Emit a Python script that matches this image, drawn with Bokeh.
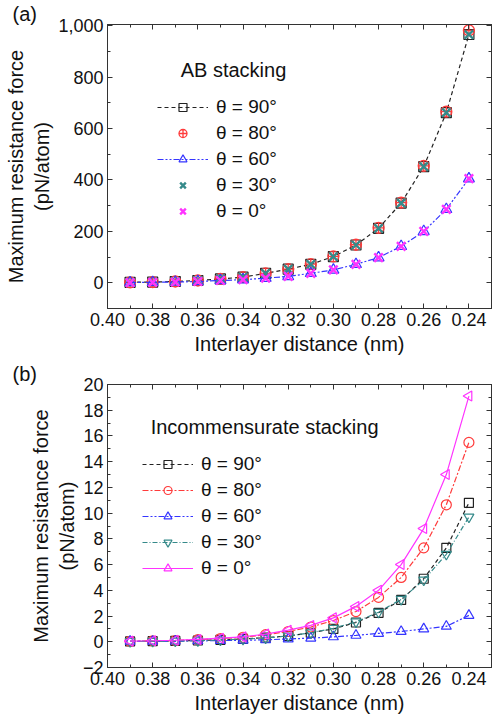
from bokeh.plotting import figure
from bokeh.layouts import column
from bokeh.models import (Range1d, FixedTicker, LinearAxis, Label, Title,
                          NumeralTickFormatter)
from bokeh.embed import file_html
from bokeh.resources import INLINE

# ---------------- data ----------------
distance = [0.39, 0.38, 0.37, 0.36, 0.35, 0.34, 0.33, 0.32,
            0.31, 0.30, 0.29, 0.28, 0.27, 0.26, 0.25, 0.24]

# (a) AB stacking, pN/atom
ab_90 = [2, 3, 5, 9, 15, 22, 37, 53, 72, 102, 147, 212, 310, 452, 662, 966]
ab_80 = [2, 3, 5, 9, 15, 22, 37, 53, 73, 103, 148, 214, 312, 455, 666, 982]
ab_60 = [1, 2, 3, 5, 9, 12, 18, 25, 37, 50, 72, 98, 142, 200, 286, 405]
ab_30 = [2, 3, 5, 9, 15, 22, 37, 53, 72, 102, 147, 212, 310, 452, 662, 966]
ab_0 = [1, 2, 3, 5, 9, 12, 18, 25, 37, 50, 72, 98, 142, 200, 286, 405]

# (b) Incommensurate stacking, pN/atom
in_90 = [0.03, 0.05, 0.07, 0.10, 0.15, 0.22, 0.32, 0.45,
         0.70, 1.00, 1.50, 2.25, 3.25, 4.90, 7.30, 10.8]
in_80 = [0.04, 0.07, 0.10, 0.16, 0.25, 0.35, 0.55, 0.80,
         1.15, 1.65, 2.35, 3.45, 5.00, 7.30, 10.65, 15.5]
in_60 = [0.03, 0.04, 0.05, 0.07, 0.09, 0.12, 0.15, 0.22,
         0.28, 0.38, 0.50, 0.65, 0.80, 1.00, 1.20, 2.05]
in_30 = [0.03, 0.04, 0.06, 0.09, 0.14, 0.20, 0.30, 0.45,
         0.70, 1.05, 1.55, 2.30, 3.30, 4.80, 6.80, 9.7]
in_0 = [0.05, 0.08, 0.12, 0.18, 0.28, 0.38, 0.60, 0.90,
        1.27, 1.86, 2.75, 4.00, 6.00, 8.80, 13.0, 19.1]

x_ticks = [0.40, 0.38, 0.36, 0.34, 0.32, 0.30, 0.28, 0.26, 0.24]
x_minor = [0.39, 0.37, 0.35, 0.33, 0.31, 0.29, 0.27, 0.25, 0.23]
ya_ticks = [0, 200, 400, 600, 800, 1000]
ya_minor = [-100, 100, 300, 500, 700, 900]
yb_ticks = [-2, 0, 2, 4, 6, 8, 10, 12, 14, 16, 18, 20]
yb_minor = [-1, 1, 3, 5, 7, 9, 11, 13, 15, 17, 19]

labels = ["θ = 90°", "θ = 80°", "θ = 60°", "θ = 30°", "θ = 0°"]

FONT = "Liberation Sans"
BLACK = "#222222"
RED = "#ff3b3b"
BLUE = "#3535ff"
TEAL = "#358a8a"
MAGENTA = "#ff33ff"
AXIS = "#333333"
TXT = "#111111"


def mirror_axis(ticks, minor):
    ax = LinearAxis(ticker=FixedTicker(ticks=ticks, minor_ticks=minor))
    ax.major_label_overrides = {t: "" for t in ticks}
    ax.major_label_text_font_size = "0px"
    ax.major_label_standoff = 0
    ax.major_tick_in = 5
    ax.major_tick_out = 0
    ax.minor_tick_in = 3
    ax.minor_tick_out = 0
    ax.axis_line_color = AXIS
    ax.major_tick_line_color = AXIS
    ax.minor_tick_line_color = AXIS
    return ax


def style_axes(p, yticks, yminor, overrides):
    p.xaxis.ticker = FixedTicker(ticks=x_ticks, minor_ticks=x_minor)
    p.yaxis.ticker = FixedTicker(ticks=yticks, minor_ticks=yminor)
    p.xaxis.formatter = NumeralTickFormatter(format="0.00")
    p.yaxis.major_label_overrides = overrides
    p.xaxis.axis_label = "Interlayer distance (nm)"
    p.yaxis.axis_label = "Maximum resistance force\n(pN/atom)"
    for ax in p.xaxis + p.yaxis:
        ax.major_label_text_font = FONT
        ax.major_label_text_font_size = "18px"
        ax.major_label_text_color = TXT
        ax.axis_label_text_font = FONT
        ax.axis_label_text_font_size = "20px"
        ax.axis_label_text_font_style = "normal"
        ax.axis_label_text_color = TXT
        ax.major_tick_in = 5
        ax.major_tick_out = 0
        ax.minor_tick_in = 3
        ax.minor_tick_out = 0
        ax.axis_line_color = AXIS
        ax.major_tick_line_color = AXIS
        ax.minor_tick_line_color = AXIS
        ax.major_label_standoff = 4
    p.xaxis.axis_label_standoff = 4
    p.yaxis.axis_label_standoff = 2
    p.add_layout(mirror_axis(x_ticks, x_minor), "above")
    p.add_layout(mirror_axis(yticks, yminor), "right")
    p.xgrid.visible = False
    p.ygrid.visible = False
    p.outline_line_color = AXIS


def make_fig(yr, letter, border_bottom):
    p = figure(width=493, height=360, output_backend="svg",
               toolbar_location=None,
               x_range=Range1d(0.40, 0.23), y_range=yr,
               min_border_left=107, min_border_right=2,
               min_border_top=0, min_border_bottom=border_bottom)
    p.background_fill_color = "white"
    p.title = Title(text=letter, align="left", offset=-95, standoff=0,
                    text_font=FONT, text_font_size="20px",
                    text_font_style="normal", text_color=TXT)
    return p


def style_legend(p, loc):
    leg = p.legend[0]
    leg.location = loc
    leg.border_line_color = None
    leg.background_fill_alpha = 0
    leg.padding = 0
    leg.margin = 0
    leg.spacing = 4
    leg.glyph_width = 51
    leg.glyph_height = 20
    leg.label_height = 20
    leg.label_standoff = 8
    leg.label_text_font = FONT
    leg.label_text_font_size = "19px"
    leg.label_text_color = TXT


# ---------------- (a) ----------------
pa = make_fig(Range1d(-100, 1005), "(a)", 52)
style_axes(pa, ya_ticks, ya_minor, {1000: "1,000"})

pa.line(distance, ab_90, color=BLACK, line_dash="4 3", line_width=1.2,
        legend_label=labels[0])
pa.scatter(distance, ab_90, marker="square", size=10, fill_color=None,
           line_color=BLACK, line_width=1.2, legend_label=labels[0])
pa.scatter(distance, ab_80, marker="circle_cross", size=11, fill_color=None,
           line_color=RED, line_width=1.3, legend_label=labels[1])
pa.line(distance, ab_60, color=BLUE, line_dash="6 2 2 2 2 2", line_width=1.2,
        legend_label=labels[2])
pa.scatter(distance, ab_60, marker="triangle", size=11, fill_color=None,
           line_color=BLUE, line_width=1.2, legend_label=labels[2])
pa.scatter(distance, ab_30, marker="x", size=12, line_color=TEAL,
           line_width=2.4, legend_label=labels[3])
pa.scatter(distance, ab_0, marker="x", size=12, line_color=MAGENTA,
           line_width=2.4, legend_label=labels[4])
style_legend(pa, (50, 86))

pa.add_layout(Label(x=0.3676, y=828, text="AB stacking", text_font=FONT,
                    text_font_size="20px", text_baseline="middle",
                    text_color=TXT))

# ---------------- (b) ----------------
pb = make_fig(Range1d(-2, 20), "(b)", 53)
style_axes(pb, yb_ticks, yb_minor, {-2: "\u22122"})

series_b = [
    (in_90, BLACK, "4 3", "square", 9),
    (in_80, RED, "6 2 2 2", "circle", 10),
    (in_60, BLUE, "6 2 2 2 2 2", "triangle", 10),
    (in_30, TEAL, "5 2 1 2", "inverted_triangle", 10),
    (in_0, MAGENTA, "solid", "triangle", 10),
]
for i, (vals, col, dash, mk, sz) in enumerate(series_b):
    pb.line(distance, vals, color=col, line_dash=dash, line_width=1.2,
            legend_label=labels[i])
    pb.scatter(distance, vals, marker=mk, size=sz,
               angle=1.5708 if i == 4 else 0.0,
               fill_color=None, line_color=col, line_width=1.2,
               legend_label=labels[i])
style_legend(pb, (35, 88))

pb.add_layout(Label(x=0.3809, y=16.7, text="Incommensurate stacking",
                    text_font=FONT, text_font_size="20px",
                    text_baseline="middle", text_color=TXT))

layout = column(pa, pb, spacing=0)
open("out.html", "w").write(file_html(layout, INLINE))
